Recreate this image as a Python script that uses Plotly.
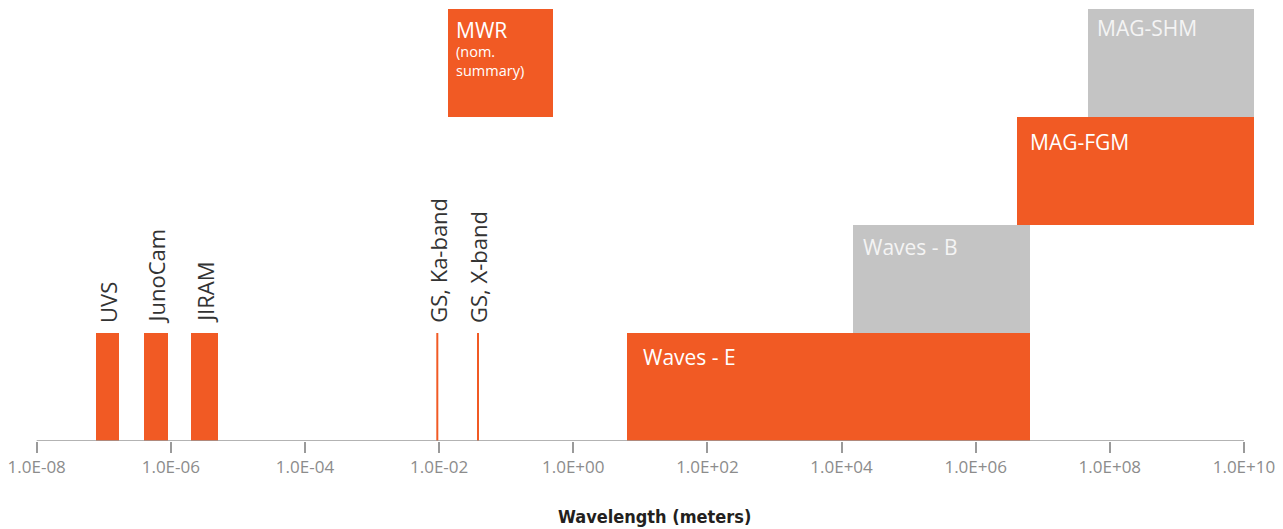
import numpy as np
import plotly.graph_objects as go

# Instrument wavelength coverage (metres); row = stacking level above the axis
instruments = ["UVS", "JunoCam", "JIRAM", "MWR", "Waves - E", "Waves - B", "MAG-FGM", "MAG-SHM"]
lam_min = [7.7e-8, 4.0e-7, 2.0e-6, 1.36e-2, 6.3, 1.5e4, 4.1e6, 4.8e7]
lam_max = [1.67e-7, 9.0e-7, 5.0e-6, 0.5, 6.5e6, 6.5e6, 1.43e10, 1.43e10]
row = [0, 0, 0, 3, 0, 1, 2, 3]
group = ["o", "o", "o", "o", "o", "g", "o", "g"]

# Single-frequency ground-station links (metres)
links = ["GS, Ka-band", "GS, X-band"]
link_lam = [9.4e-3, 3.8e-2]

tick_vals = [1e-8, 1e-6, 1e-4, 1e-2, 1e0, 1e2, 1e4, 1e6, 1e8, 1e10]
tick_text = ["1.0E-08", "1.0E-06", "1.0E-04", "1.0E-02", "1.0E+00",
             "1.0E+02", "1.0E+04", "1.0E+06", "1.0E+08", "1.0E+10"]

ORANGE = "#F15A24"
GREY = "#C4C4C4"
FONT = "Open Sans"
TITLE_FONT = "'DejaVu Sans Condensed', 'Liberation Sans Narrow', 'Liberation Sans', sans-serif"

fig = go.Figure()

for g, col in (("o", ORANGE), ("g", GREY)):
    idx = [i for i, gg in enumerate(group) if gg == g]
    fig.add_trace(go.Bar(
        orientation="h",
        base=[lam_min[i] for i in idx],
        x=[lam_max[i] - lam_min[i] for i in idx],
        y=[row[i] + 0.5 for i in idx],
        width=1.0,
        marker=dict(color=col, line=dict(width=0)),
        hoverinfo="skip",
        showlegend=False,
    ))

for lam in link_lam:
    fig.add_trace(go.Scatter(
        x=[lam, lam], y=[0, 1], mode="lines",
        line=dict(color=ORANGE, width=2),
        hoverinfo="skip", showlegend=False,
    ))

# Axis baseline spans only the labelled decades
fig.add_trace(go.Scatter(
    x=[tick_vals[0], tick_vals[-1]], y=[0, 0], mode="lines",
    line=dict(color="#9A9A9A", width=1.5),
    hoverinfo="skip", showlegend=False,
))

narrow = {"UVS", "JunoCam", "JIRAM"}
# label placement inside the wide bars: (x offset px, y offset px)
inside_offsets = {
    "MWR": (6, -5),
    "Waves - E": (14, -8),
    "Waves - B": (8, -6),
    "MAG-FGM": (11, -9),
    "MAG-SHM": (7, -3),
}

annotations = []
for i, name in enumerate(instruments):
    if name in narrow:
        annotations.append(dict(
            x=np.log10(np.sqrt(lam_min[i] * lam_max[i])), y=row[i] + 1,
            text=name, textangle=-90, showarrow=False,
            xanchor="center", yanchor="bottom", yshift=8,
            font=dict(family=FONT, size=22, color="#333333"),
        ))
    else:
        dx, dy = inside_offsets[name]
        colr = "#FFFFFF" if group[i] == "o" else "#F4F4F4"
        annotations.append(dict(
            x=np.log10(lam_min[i]), y=row[i] + 1,
            text=name, showarrow=False,
            xanchor="left", yanchor="top", xshift=dx, yshift=dy,
            font=dict(family=FONT, size=21, color=colr),
        ))
        if name == "MWR":
            annotations.append(dict(
                x=np.log10(lam_min[i]), y=row[i] + 1,
                text="(nom.<br>summary)", showarrow=False, align="left",
                xanchor="left", yanchor="top", xshift=dx, yshift=dy - 26,
                font=dict(family=FONT, size=14.5, color="#FFFFFF"),
            ))

for name, lam in zip(links, link_lam):
    annotations.append(dict(
        x=np.log10(lam), y=1, text=name, textangle=-90, showarrow=False,
        xanchor="center", yanchor="bottom", yshift=8,
        font=dict(family=FONT, size=22, color="#333333"),
    ))

annotations.append(dict(
    xref="paper", yref="paper", x=654 / 1283, y=-(516 - 441) / 432,
    text="<b>Wavelength (meters)</b>", showarrow=False,
    xanchor="center", yanchor="middle",
    font=dict(family=TITLE_FONT, size=18, color="#231F20"),
))

fig.update_layout(
    width=1283, height=529,
    margin=dict(l=0, r=0, t=9, b=88),
    paper_bgcolor="white", plot_bgcolor="white",
    barmode="overlay",
    bargap=0,
    annotations=annotations,
    xaxis=dict(
        type="log", range=[-8.547, 10.582],
        showgrid=False, zeroline=False, showline=False,
        tickmode="array", tickvals=tick_vals, ticktext=tick_text,
        ticks="outside", ticklen=11, tickwidth=1.5, tickcolor="#9A9A9A",
        tickfont=dict(family=FONT, size=17, color="#8C8C8C"),
    ),
    yaxis=dict(
        range=[0, 4], visible=False, showgrid=False, zeroline=False,
    ),
)

fig.write_html("out.html")
